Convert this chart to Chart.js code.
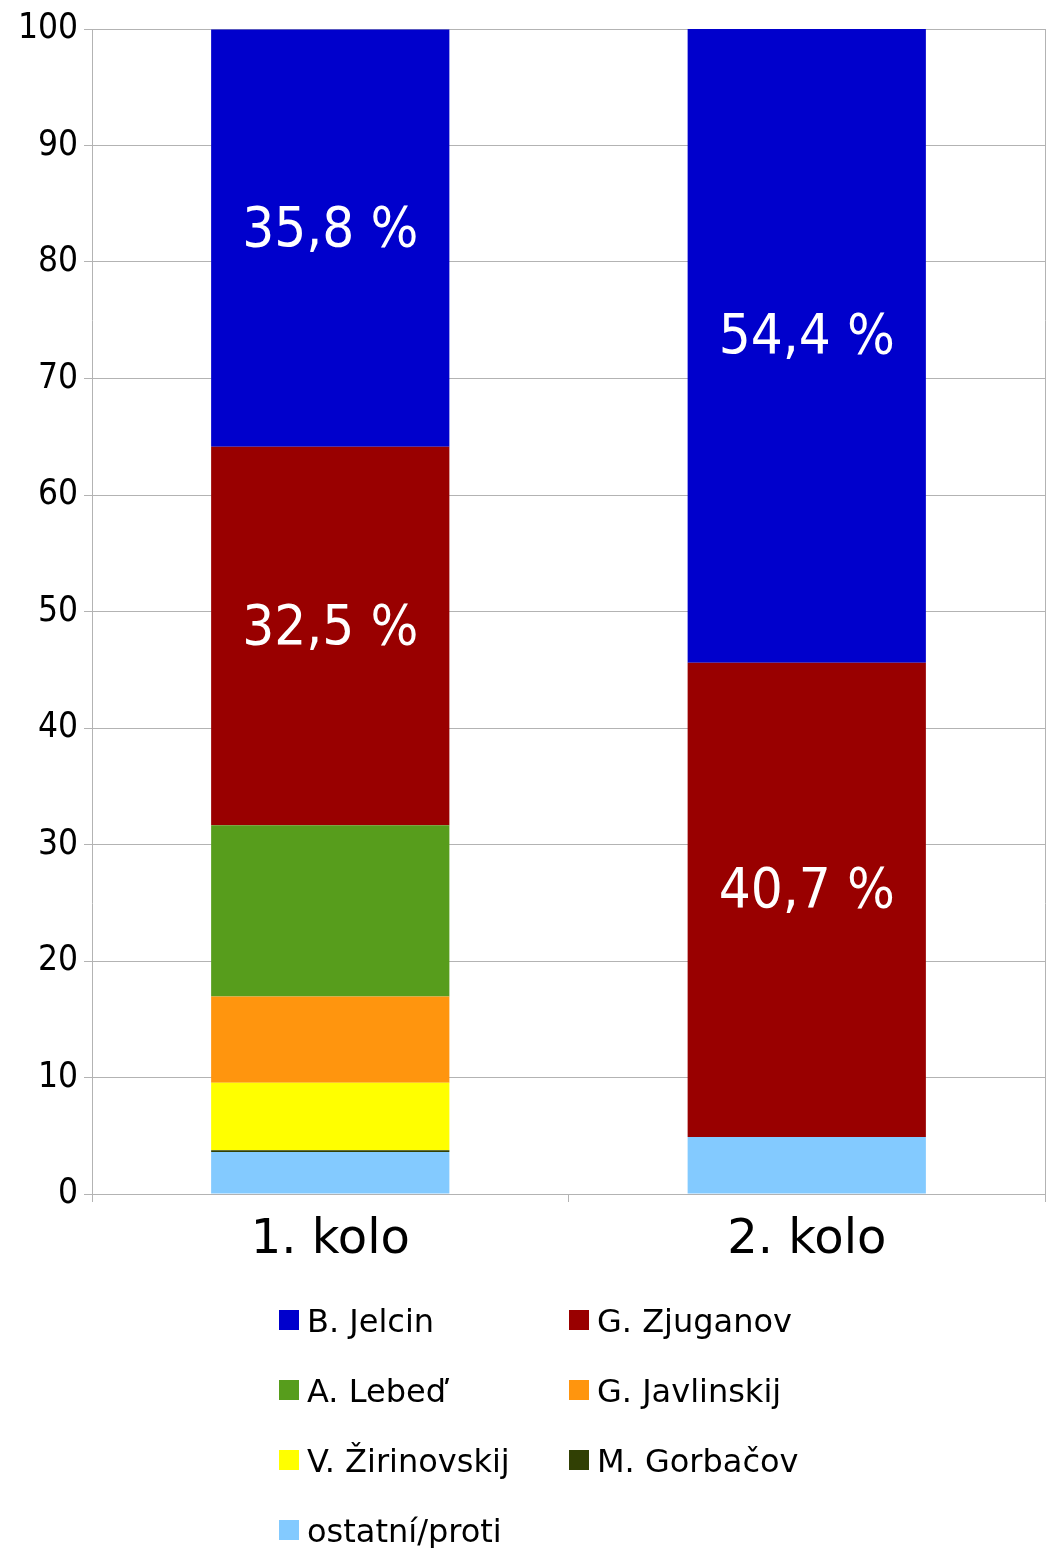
<!DOCTYPE html>
<html>
<head>
<meta charset="utf-8">
<script src="https://cdn.jsdelivr.net/npm/chart.js@4.4.1/dist/chart.umd.min.js"></script>
<style>
  html, body { margin: 0; padding: 0; background: #fff; }
  #wrap { width: 1047px; height: 1548px; }
</style>
</head>
<body>
<div id="wrap"><canvas id="chart"></canvas></div>
<script>
// Data
const rounds = ['1. kolo', '2. kolo'];
const yTicks = [0, 10, 20, 30, 40, 50, 60, 70, 80, 90, 100];

// series, listed bottom of the stack first
const ostatni = [3.6, 4.9];
const gorbacov = [0.15, 0];
const zirinovskij = [5.8, 0];
const javlinskij = [7.4, 0];
const lebed = [14.7, 0];
const zjuganov = [32.5, 40.7];
const jelcin = [35.8, 54.4];

const gridColor = '#b3b3b3';

const datasets = [
    { label: 'ostatní/proti', data: ostatni, backgroundColor: '#83caff' },
    { label: 'M. Gorbačov', data: gorbacov, backgroundColor: '#314004' },
    { label: 'V. Žirinovskij', data: zirinovskij, backgroundColor: '#ffff00' },
    { label: 'G. Javlinskij', data: javlinskij, backgroundColor: '#ff950e' },
    { label: 'A. Lebeď', data: lebed, backgroundColor: '#579d1c' },
    { label: 'G. Zjuganov', data: zjuganov, backgroundColor: '#990000', showValue: true },
    { label: 'B. Jelcin', data: jelcin, backgroundColor: '#0000cc', showValue: true }
];

// White percentage labels inside the two main segments
const valueLabels = {
    id: 'valueLabels',
    afterDatasetsDraw(chart) {
        const ctx = chart.ctx;
        ctx.save();
        ctx.fillStyle = '#fff';
        ctx.font = '56px "DejaVu Sans Condensed", "DejaVu Sans", sans-serif';
        ctx.textAlign = 'center';
        ctx.textBaseline = 'middle';
        chart.data.datasets.forEach((ds, i) => {
            if (!ds.showValue) return;
            chart.getDatasetMeta(i).data.forEach((bar, j) => {
                const v = ds.data[j];
                if (!v) return;
                const y = (bar.y + bar.base) / 2 - 7;
                ctx.fillText(v.toFixed(1).replace('.', ',') + ' %', bar.x, y);
            });
        });
        ctx.restore();
    }
};

// Two-column legend under the chart, top of the stack first
const gridLegend = {
    id: 'gridLegend',
    afterDraw(chart) {
        const ctx = chart.ctx;
        const items = chart.data.datasets.slice().reverse();
        const colX = [279, 569];
        const rowY = 1320;
        const rowGap = 70;
        ctx.save();
        ctx.font = '32px "DejaVu Sans", sans-serif';
        ctx.textAlign = 'left';
        ctx.textBaseline = 'alphabetic';
        items.forEach((ds, i) => {
            const x = colX[i % 2];
            const y = rowY + Math.floor(i / 2) * rowGap;
            ctx.fillStyle = ds.backgroundColor;
            ctx.fillRect(x, y - 10, 20, 20);
            ctx.fillStyle = '#000';
            ctx.fillText(ds.label, x + 28, y + 12);
        });
        ctx.restore();
    }
};

new Chart(document.getElementById('chart'), {
    type: 'bar',
    data: { labels: rounds, datasets },
    plugins: [valueLabels, gridLegend],
    options: {
        responsive: true,
        maintainAspectRatio: false,
        animation: false,
        layout: { padding: { top: 29, right: 2, bottom: 274, left: 0 } },
        datasets: { bar: { categoryPercentage: 1, barPercentage: 0.5 } },
        plugins: { legend: { display: false }, tooltip: { enabled: false } },
        scales: {
            x: {
                stacked: true,
                offset: true,
                afterFit: s => { s.height = 80; },
                grid: { offset: true, drawOnChartArea: false, drawTicks: true, tickLength: 8, color: gridColor },
                border: { color: gridColor },
                ticks: { color: '#000', padding: 10, font: { family: 'DejaVu Sans', size: 48 } }
            },
            y: {
                stacked: true,
                min: 0,
                max: 100,
                afterFit: s => { s.width = 92; },
                afterBuildTicks: s => { s.ticks = yTicks.map(v => ({ value: v })); },
                grid: { color: gridColor, tickLength: 8 },
                border: { color: gridColor },
                ticks: { color: '#000', padding: 6, font: { family: 'DejaVu Sans Condensed', size: 35 } }
            },
            yRight: {
                position: 'right',
                min: 0,
                max: 100,
                afterFit: s => { s.width = 0; },
                grid: { drawOnChartArea: false, drawTicks: false },
                border: { color: gridColor },
                ticks: { display: false }
            }
        }
    }
});
</script>
</body>
</html>
